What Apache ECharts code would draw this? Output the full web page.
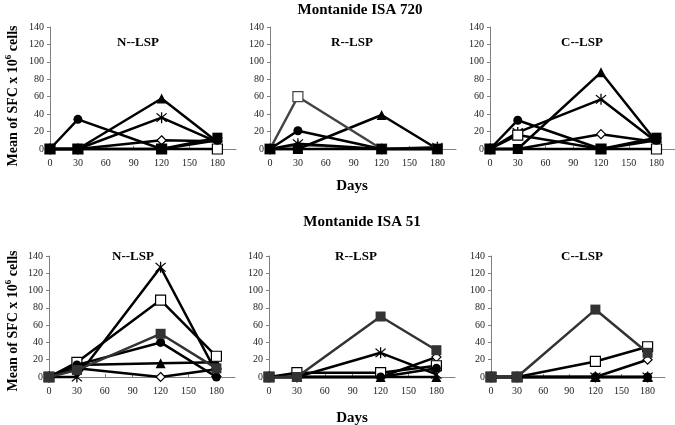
<!DOCTYPE html>
<html><head><meta charset="utf-8">
<script src="https://cdn.jsdelivr.net/npm/echarts@6/dist/echarts.min.js"></script>
<style>html,body{margin:0;padding:0;background:#fff}#c{width:675px;height:425px}</style>
</head><body><div id="c"></div>
<script>
// ---- data ----
const days = [0, 30, 120, 180];
const xTickLabels = [0, 30, 60, 90, 120, 150, 180];
const yTickLabels = [0, 20, 40, 60, 80, 100, 120, 140];
const rowTitles = ['Montanide ISA 720', 'Montanide ISA 51'];
const panelTitles = ['N--LSP', 'R--LSP', 'C--LSP'];

// Montanide ISA 720
const isa720N_diamond = [0, 0, 10, 9];
const isa720N_triangle = [0, 0, 58, 8];
const isa720N_star = [0, 0, 36, 8];
const isa720N_openSquare = [0, 0, 0, 0];
const isa720N_circle = [0, 34, 0, 10];
const isa720N_filledSquare = [0, 0, 0, 13];

const isa720R_diamond = [0, 4, 0, 0];
const isa720R_triangle = [0, 0, 39, 0];
const isa720R_star = [0, 6, 0, 2];
const isa720R_openSquare = [0, 60, 0, 0];
const isa720R_circle = [0, 21, 0, 0];
const isa720R_filledSquare = [0, 0, 0, 0];

const isa720C_diamond = [0, 0, 17, 8];
const isa720C_triangle = [0, 0, 88, 8];
const isa720C_star = [0, 19, 57, 8];
const isa720C_openSquare = [0, 16, 0, 0];
const isa720C_circle = [0, 33, 0, 10];
const isa720C_filledSquare = [0, 0, 0, 13];

// Montanide ISA 51
const isa51N_diamond = [0, 10, 0, 9];
const isa51N_triangle = [0, 14, 16, 17];
const isa51N_star = [0, 0, 127, 5];
const isa51N_openSquare = [0, 17, 89, 24];
const isa51N_circle = [0, 14, 40, 0];
const isa51N_filledSquare = [0, 8, 50, 10];

const isa51R_diamond = [0, 0, 0, 23];
const isa51R_triangle = [0, 0, 0, 0];
const isa51R_star = [0, 0, 28, 3];
const isa51R_openSquare = [0, 5, 5, 13];
const isa51R_circle = [0, 0, 0, 10];
const isa51R_filledSquare = [0, 0, 70, 31];

const isa51C_diamond = [0, 0, 0, 20];
const isa51C_triangle = [0, 0, 0, 0];
const isa51C_star = [0, 0, 0, 0];
const isa51C_openSquare = [0, 0, 18, 35];
const isa51C_circle = [0, 0, 0, 0];
const isa51C_filledSquare = [0, 0, 78, 28];

// ---- layout / style ----
const panels = [
  {left: 50, top: 27, width: 186, height: 122, title: 0, tx: 138, ty: 43,
   s: [isa720N_diamond, isa720N_triangle, isa720N_star, isa720N_openSquare, isa720N_circle, isa720N_filledSquare]},
  {left: 270, top: 27, width: 186, height: 122, title: 1, tx: 352, ty: 43,
   s: [isa720R_diamond, isa720R_triangle, isa720R_star, isa720R_openSquare, isa720R_circle, isa720R_filledSquare]},
  {left: 490, top: 27, width: 186, height: 122, title: 2, tx: 582, ty: 43,
   s: [isa720C_diamond, isa720C_triangle, isa720C_star, isa720C_openSquare, isa720C_circle, isa720C_filledSquare]},
  {left: 49, top: 256, width: 186, height: 121, title: 0, tx: 133, ty: 257,
   s: [isa51N_diamond, isa51N_triangle, isa51N_star, isa51N_openSquare, isa51N_circle, isa51N_filledSquare]},
  {left: 269, top: 256, width: 186, height: 121, title: 1, tx: 356, ty: 257,
   s: [isa51R_diamond, isa51R_triangle, isa51R_star, isa51R_openSquare, isa51R_circle, isa51R_filledSquare]},
  {left: 491, top: 256, width: 174, height: 121, title: 2, tx: 582, ty: 257,
   s: [isa51C_diamond, isa51C_triangle, isa51C_star, isa51C_openSquare, isa51C_circle, isa51C_filledSquare]}
];

const starPath = 'path://M9,0 L11,0 L11,20 L9,20 Z M1.5,2.9 L2.9,1.5 L18.5,17.1 L17.1,18.5 Z M17.1,1.5 L18.5,2.9 L2.9,18.5 L1.5,17.1 Z';
const markers = [
  {name: 'diamond', symbol: 'diamond', size: 9, fill: '#fff', line: '#000'},
  {name: 'triangle', symbol: 'triangle', size: 10, fill: '#000', line: '#000'},
  {name: 'star', symbol: starPath, size: 11, fill: '#000', line: '#000'},
  {name: 'openSquare', symbol: 'rect', size: 10, fill: '#fff', line: '#000'},
  {name: 'circle', symbol: 'circle', size: 9, fill: '#000', line: '#000'},
  {name: 'filledSquare', symbol: 'rect', size: 10, fill: '#000', line: '#000'}
];

const FONT = '"Liberation Serif", "Times New Roman", serif';
const axisGray = '#808080';

const grids = [], xAxes = [], yAxes = [], series = [];
panels.forEach((p, pi) => {
  const bottomRow = pi >= 3;
  grids.push({left: p.left, top: p.top, width: p.width, height: p.height, containLabel: false});
  xAxes.push({
    type: 'value', gridIndex: pi, min: 0, max: 200,
    axisLine: {show: true, onZero: false, lineStyle: {color: axisGray, width: 1}},
    axisTick: {show: true, inside: true, length: 3, customValues: xTickLabels, lineStyle: {color: axisGray}},
    axisLabel: {customValues: xTickLabels, margin: 9, fontFamily: FONT, fontSize: 10, color: '#222'},
    splitLine: {show: false}
  });
  yAxes.push({
    type: 'value', gridIndex: pi, min: 0, max: 140, interval: 20,
    axisLine: {show: true, lineStyle: {color: axisGray, width: 1}},
    axisTick: {show: true, inside: false, length: 3, lineStyle: {color: axisGray}},
    axisLabel: {margin: 6, fontFamily: FONT, fontSize: 10, color: '#222'},
    splitLine: {show: false}
  });
  p.s.forEach((vals, si) => {
    const m = markers[si];
    let lineColor = m.line, fill = m.fill;
    if (m.name === 'filledSquare' && bottomRow) { lineColor = '#333'; fill = '#333'; }
    if (m.name === 'openSquare' && pi === 1) { lineColor = '#444'; }
    if (m.name === 'diamond' && pi === 1) { lineColor = '#666'; }
    series.push({
      type: 'line', xAxisIndex: pi, yAxisIndex: pi, name: m.name,
      data: days.map((d, i) => [d, vals[i]]),
      symbol: m.symbol, symbolSize: m.size, showSymbol: true, clip: false,
      z: 2 + si, animation: false,
      lineStyle: {color: lineColor, width: (pi === 1 && m.name === 'diamond') ? 1.5 : 2.5},
      itemStyle: {color: fill, borderColor: (m.name === 'star') ? 'transparent' : lineColor,
                  borderWidth: (m.fill === '#fff') ? 1.2 : 0, opacity: 1}
    });
  });
});

const texts = [
  {t: rowTitles[0], x: 360, y: 10, size: 15},
  {t: rowTitles[1], x: 362, y: 222, size: 15},
  {t: 'Days', x: 352, y: 186, size: 15},
  {t: 'Days', x: 352, y: 418, size: 15}
];

const graphicEls = [];
panels.forEach(p => {
  graphicEls.push({type: 'text', x: p.tx, y: p.ty, style: {
    text: panelTitles[p.title], font: 'bold 13px ' + FONT, fill: '#000', align: 'center', verticalAlign: 'middle'}});
});
texts.forEach(o => {
  graphicEls.push({type: 'text', x: o.x, y: o.y, style: {
    text: o.t, font: 'bold ' + o.size + 'px ' + FONT, fill: '#000', align: 'center', verticalAlign: 'middle'}});
});
[96, 321].forEach(cy => {
  graphicEls.push({type: 'text', x: 12, y: cy, rotation: Math.PI / 2, style: {
    text: '{m|Mean of SFC x 10}{s|6}{m| cells}',
    align: 'center', verticalAlign: 'middle',
    rich: {
      m: {fontFamily: FONT, fontWeight: 'bold', fontSize: 14, fill: '#000', lineHeight: 16, verticalAlign: 'bottom'},
      s: {fontFamily: FONT, fontWeight: 'bold', fontSize: 9, fill: '#000', lineHeight: 16, verticalAlign: 'top', padding: [0, 0, 6, 0]}
    }
  }});
});

const chart = echarts.init(document.getElementById('c'), null, {renderer: 'canvas'});
chart.setOption({
  animation: false,
  backgroundColor: '#fff',
  grid: grids, xAxis: xAxes, yAxis: yAxes, series: series,
  graphic: graphicEls
});
</script>
</body></html>
